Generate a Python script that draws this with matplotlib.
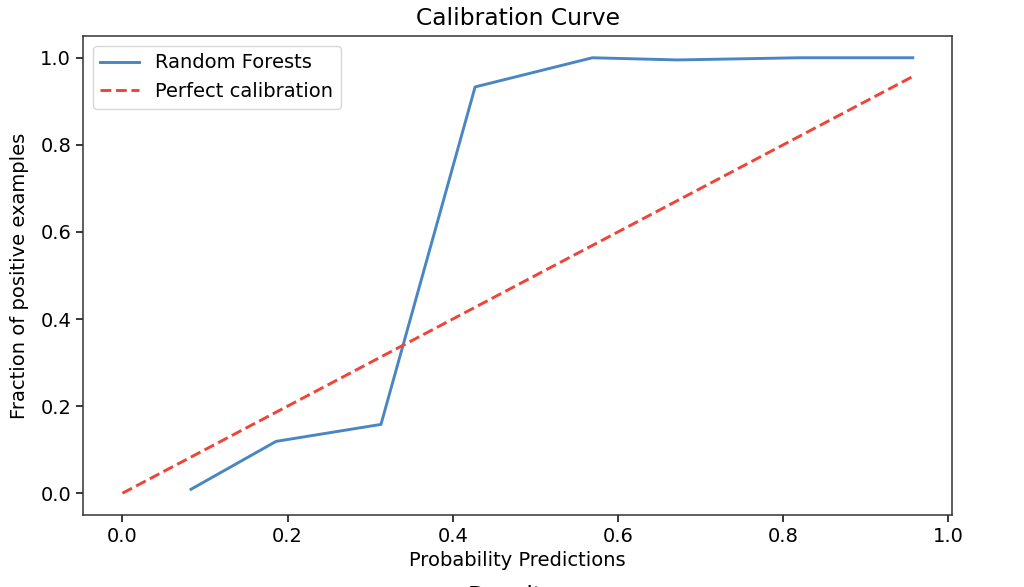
import matplotlib
matplotlib.use("Agg")
from matplotlib import pyplot as plt

# calibration curve values
prob_pred = [0.083, 0.186, 0.313, 0.427, 0.569, 0.672, 0.82, 0.957]
prob_true = [0.009, 0.119, 0.158, 0.933, 1.0, 0.995, 1.0, 1.0]
perfect_x = [0.0, 0.957]
perfect_y = [0.0, 0.957]

plt.rcParams['font.size'] = 14

fig = plt.figure(figsize=(10.24, 5.87), dpi=100)
ax = fig.add_axes([0.081, 0.1227, 0.849, 0.816])

ax.plot(prob_pred, prob_true, color='#4a86c4', linewidth=2.1, label='Random Forests')
ax.plot(perfect_x, perfect_y, color='#f0443a', linestyle='--', linewidth=2.1,
        dashes=(3.7, 1.6), label='Perfect calibration')

ax.set_title('Calibration Curve', fontsize=16.8, pad=8)
ax.set_xlabel('Probability Predictions')
ax.set_ylabel('Fraction of positive examples', labelpad=8)
ax.set_xticks([0.0, 0.2, 0.4, 0.6, 0.8, 1.0])
ax.set_yticks([0.0, 0.2, 0.4, 0.6, 0.8, 1.0])
ax.tick_params(length=5, width=1.1)
for s in ax.spines.values():
    s.set_linewidth(1.1)
    s.set_edgecolor('#333333')
ax.legend(loc='upper left')

# title of the next panel, cut off at the bottom edge
fig.text(0.5, 0.004, 'Density', ha='center', va='top', fontsize=16.8)

fig.savefig('out.png', dpi=100)
